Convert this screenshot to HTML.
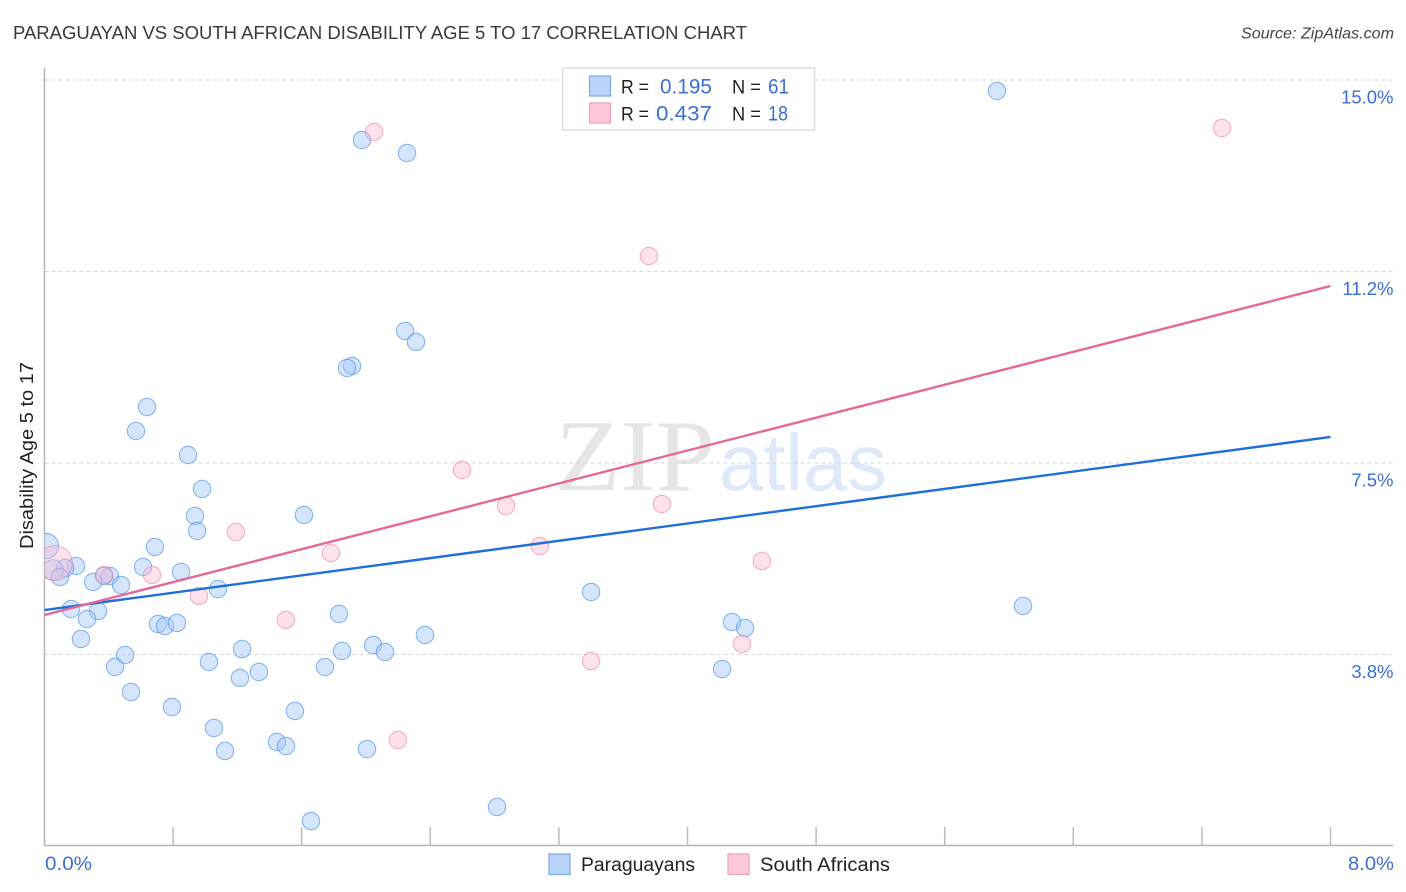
<!DOCTYPE html>
<html lang="en">
<head>
<meta charset="utf-8">
<title>Paraguayan vs South African Disability Age 5 to 17 Correlation Chart</title>
<style>
html,body{margin:0;padding:0;background:#fff;width:1406px;height:892px;overflow:hidden}
svg{display:block;font-family:"Liberation Sans",Arial,sans-serif}
</style>
</head>
<body>
<svg id="chart" xmlns="http://www.w3.org/2000/svg" width="1406" height="892" viewBox="0 0 1406 892">
  <defs>
    <clipPath id="plot-clip"><rect x="44.5" y="60" width="1360" height="785"></rect></clipPath>
  </defs>
  <rect x="0" y="0" width="1406" height="892" fill="#ffffff"></rect>
  <text x="13" y="39" font-size="18.5" fill="#3a3a3a" textLength="734" lengthAdjust="spacingAndGlyphs">PARAGUAYAN VS SOUTH AFRICAN DISABILITY AGE 5 TO 17 CORRELATION CHART</text>
  <text x="1241" y="38.5" font-size="16" font-style="italic" fill="#444444" textLength="153" lengthAdjust="spacingAndGlyphs">Source: ZipAtlas.com</text>
  <g>
    <text x="555" y="490" font-family="'Liberation Serif',serif" font-size="102" fill="#e6e6e6" textLength="160" lengthAdjust="spacingAndGlyphs">ZIP</text>
    <text x="719" y="490" font-size="80" fill="#dfe9fa" textLength="168" lengthAdjust="spacingAndGlyphs">atlas</text>
  </g>
  <g id="grid"></g>
  <g id="axes"></g>
  <g id="points" clip-path="url(#plot-clip)"></g>
  <g id="trends"></g>
  <g id="labels"></g>
  <text transform="translate(33,549) rotate(-90)" font-size="18.5" fill="#222222" textLength="187" lengthAdjust="spacingAndGlyphs">Disability Age 5 to 17</text>

  <g>
    <rect x="562.5" y="68" width="252" height="62" fill="#ffffff" stroke="#dddddd" stroke-width="1.5"></rect>
    <rect x="589.5" y="76" width="21" height="20" fill="#b8d4f8" stroke="#7fa9e4" stroke-width="1.2"></rect>
    <rect x="589.5" y="103" width="21" height="20" fill="#fdc8da" stroke="#f1a0bb" stroke-width="1.2"></rect>
    <text x="621" y="93.5" font-size="19" fill="#222222" textLength="28" lengthAdjust="spacingAndGlyphs">R =</text>
    <text x="660" y="93.5" font-size="21" fill="#3b6fd4" textLength="52" lengthAdjust="spacingAndGlyphs">0.195</text>
    <text x="732" y="93.5" font-size="19" fill="#222222" textLength="29" lengthAdjust="spacingAndGlyphs">N =</text>
    <text x="768" y="93.5" font-size="21" fill="#3b6fd4" textLength="21" lengthAdjust="spacingAndGlyphs">61</text>
    <text x="621" y="120.5" font-size="19" fill="#222222" textLength="28" lengthAdjust="spacingAndGlyphs">R =</text>
    <text x="656" y="120.5" font-size="21" fill="#3b6fd4" textLength="56" lengthAdjust="spacingAndGlyphs">0.437</text>
    <text x="732" y="120.5" font-size="19" fill="#222222" textLength="29" lengthAdjust="spacingAndGlyphs">N =</text>
    <text x="768" y="120.5" font-size="21" fill="#3b6fd4" textLength="20" lengthAdjust="spacingAndGlyphs">18</text>
  </g>

  <g>
    <rect x="549" y="854" width="21" height="20.5" fill="#b8d4f8" stroke="#7fa9e4" stroke-width="1.2"></rect>
    <text x="581" y="871" font-size="19" fill="#222222" textLength="114" lengthAdjust="spacingAndGlyphs">Paraguayans</text>
    <rect x="728" y="854" width="21" height="20.5" fill="#fdc8da" stroke="#f1a0bb" stroke-width="1.2"></rect>
    <text x="760" y="871" font-size="19" fill="#222222" textLength="130" lengthAdjust="spacingAndGlyphs">South Africans</text>
  </g>
</svg>
<script>
// Chart data (percent values)
const paraguayanX = [5.925,1.975,2.255,2.243,2.311,1.913,1.882,0.638,0.569,0.893,0.98,0.936,0.949,1.614,0.687,0.009,0.613,0.196,0.128,0.053,0.096,0.849,0.407,0.37,0.302,0.476,1.079,3.4,6.087,0.165,0.333,0.264,1.832,0.706,0.75,0.824,2.367,0.227,4.277,4.358,2.044,2.118,1.851,1.229,0.501,1.023,0.439,1.745,1.334,1.216,4.215,0.538,0.793,1.558,1.054,1.446,1.502,1.123,2.006,2.815,1.658];
const paraguayanY = [14.785,13.825,13.571,10.085,9.87,9.4,9.361,8.597,8.127,7.657,6.991,6.463,6.169,6.482,5.856,5.875,5.464,5.484,5.444,5.405,5.268,5.366,5.288,5.288,5.17,5.112,5.033,4.975,4.7,4.642,4.602,4.446,4.544,4.348,4.309,4.368,4.133,4.054,4.387,4.27,3.937,3.8,3.819,3.858,3.741,3.604,3.506,3.506,3.408,3.291,3.467,3.016,2.723,2.644,2.312,2.037,1.959,1.861,1.9,0.765,0.49];
const paraguayanWeight = [1,1,1,1,1,1,1,1,1,1,1,1,1,1,1,2.1,1,1,1,1.4,1,1,1,1,1,1,1,1,1,1,1,1,1,1,1,1,1,1,1,1,1,1,1,1,1,1,1,1,1,1,1,1,1,1,1,1,1,1,1,1,1];
const southAfricanX = [2.05,7.325,3.76,2.597,2.871,3.841,3.082,1.191,1.782,4.463,0.669,0.37,0.065,0.961,1.502,3.4,4.339,2.199];
const southAfricanY = [13.982,14.06,11.554,7.363,6.659,6.698,5.875,6.149,5.738,5.581,5.307,5.307,5.542,4.896,4.426,3.623,3.956,2.076];
const southAfricanWeight = [1,1,1,1,1,1,1,1,1,1,1,1,4,1,1,1,1,1];
const trendX = [0,8];
const paraguayanTrend = [4.622,8.01];
const southAfricanTrend = [4.524,10.966];
const yTicks = [15,11.25,7.5,3.75];
const yTickLabels = ["15.0%","11.2%","7.5%","3.8%"];
const xTicks = [0,0.8,1.6,2.4,3.2,4,4.8,5.6,6.4,7.2,8];
const xEndLabels = ["0.0%","8.0%"];

const NS = "http://www.w3.org/2000/svg";
function xScale(v){ return 44.5 + v * 160.75; }
function yScale(v){ return 80 + (15 - v) * 51.07; }
function rScale(w){ return 8.7 * Math.sqrt(w); }
function make(tag, attrs, parent){
  const el = document.createElementNS(NS, tag);
  for (const k in attrs) el.setAttribute(k, attrs[k]);
  parent.appendChild(el);
  return el;
}

const grid = document.getElementById("grid");
const axes = document.getElementById("axes");
const points = document.getElementById("points");
const trends = document.getElementById("trends");
const labels = document.getElementById("labels");

yTicks.forEach(function(t, i){
  const line = make("line", {x1:44.5, x2:1393, y1:yScale(t), y2:yScale(t), stroke:"#d8d8d8", "stroke-width":1, "stroke-dasharray":"4 3"}, grid);
  
  
  const label = make("text", {x:1393.5, y:yScale(t)+23.5, "font-size":18.5, fill:"#3b6fd4", "text-anchor":"end"}, labels);
  
  
  label.textContent = yTickLabels[i];
});

const yAxis = make("line", {x1:44.5, x2:44.5, y1:68, y2:845.5, stroke:"#b4b4b4", "stroke-width":1.5}, axes);


const xAxis = make("line", {x1:44, x2:1393, y1:845.5, y2:845.5, stroke:"#b4b4b4", "stroke-width":1.5}, axes);


xTicks.slice(1).forEach(function(t){
  const tick = make("line", {x1:xScale(t), x2:xScale(t), y1:827, y2:845.5, stroke:"#bcbcbc", "stroke-width":1.5}, axes);
  
  
});

const xStart = make("text", {x:45, y:870, "font-size":19.5, fill:"#3b6fd4", textLength:47, lengthAdjust:"spacingAndGlyphs"}, labels);


xStart.textContent = xEndLabels[0];
const xEnd = make("text", {x:1348, y:870, "font-size":19.5, fill:"#3b6fd4", textLength:46, lengthAdjust:"spacingAndGlyphs"}, labels);


xEnd.textContent = xEndLabels[1];

paraguayanX.forEach(function(x, i){
  const c = make("circle", {cx:xScale(x), cy:yScale(paraguayanY[i]), r:rScale(paraguayanWeight[i]), fill:"#a8c8f8", "fill-opacity":0.48, stroke:"#4a8ee6", "stroke-opacity":0.62, "stroke-width":1.1}, points);
  
  
});
southAfricanX.forEach(function(x, i){
  const c = make("circle", {cx:xScale(x), cy:yScale(southAfricanY[i]), r:rScale(southAfricanWeight[i]), fill:"#fbb8cf", "fill-opacity":0.42, stroke:"#ec7fa6", "stroke-opacity":0.58, "stroke-width":1.1}, points);
  
  
});

const blueLine = make("line", {x1:xScale(trendX[0]), x2:xScale(trendX[1]), y1:yScale(paraguayanTrend[0]), y2:yScale(paraguayanTrend[1]), stroke:"#1f6fd8", "stroke-width":2.4}, trends);


const pinkLine = make("line", {x1:xScale(trendX[0]), x2:xScale(trendX[1]), y1:yScale(southAfricanTrend[0]), y2:yScale(southAfricanTrend[1]), stroke:"#e8679a", "stroke-width":2.4}, trends);


</script>
</body>
</html>
